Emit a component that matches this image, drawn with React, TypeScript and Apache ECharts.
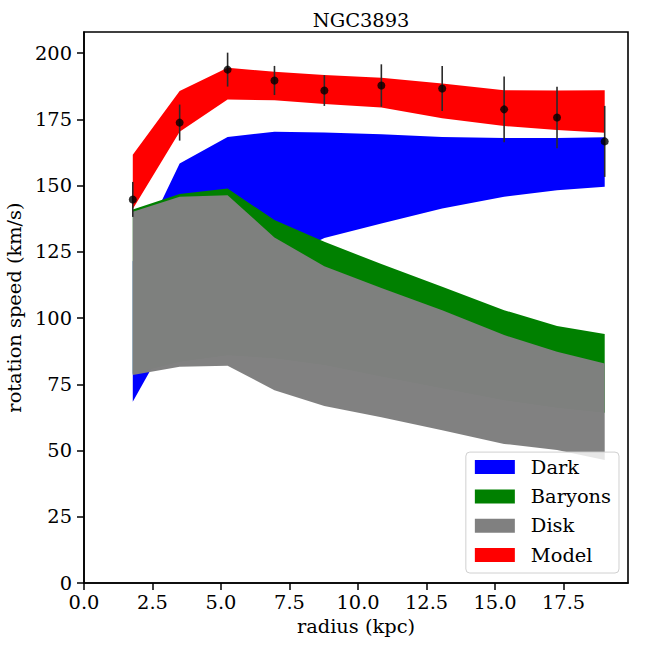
import React, { useEffect, useRef } from "react";
import * as echarts from "echarts";

// radius (kpc) of the sampled points
const radius = [1.78, 3.49, 5.24, 6.95, 8.77, 10.85, 13.07, 15.33, 17.26, 19.0];
// observed rotation speed (km/s) and error
const vObs = [144.8, 173.8, 193.8, 189.7, 185.9, 187.8, 186.7, 178.8, 175.7, 166.7];
const vErr = [6.6, 6.8, 6.4, 5.5, 5.8, 8.0, 8.5, 12.4, 11.6, 13.4];

// band limits
const darkLo = [68.4, 100, 112, 121, 130.2, 135.7, 141.4, 145.8, 148.3, 149.6];
const darkHi = [121.5, 158.4, 168.4, 170.3, 170.1, 169.4, 168.4, 168.0, 168.0, 168.3];
const baryLo = [79, 83.5, 86, 84.8, 82.3, 78, 73.5, 69, 66.2, 64.3];
const baryHi = [141, 146.8, 148.9, 137, 128.8, 120.4, 111.8, 103, 97, 94];
const diskLo = [78.5, 81.6, 82, 72.8, 66.8, 62.6, 57.7, 52.5, 50.2, 46.4];
const diskHi = [140.1, 145.8, 146.4, 130.4, 119.6, 111.4, 103, 93.6, 87.3, 82.9];
const modelLo = [141.2, 170.3, 182.5, 182.2, 180.8, 179.5, 175.4, 172.5, 171, 170];
const modelHi = [161.7, 185.7, 194.5, 193, 191.8, 190.7, 188.6, 186, 185.9, 186];

const xTicks = [0, 2.5, 5, 7.5, 10, 12.5, 15, 17.5];
const yTicks = [0, 25, 50, 75, 100, 125, 150, 175, 200];

const FONT = "DejaVu Serif";
const FS = 19.4;

function band(name: string, color: string, lo: number[], hi: number[], opacity = 1) {
  return {
    type: "custom",
    name,
    data: radius.map((r, i) => [r, lo[i], hi[i]]),
    encode: { x: 0, y: [1, 2] },
    itemStyle: { color },
    silent: true,
    clip: true,
    renderItem: (params: any, api: any) => {
      if (params.dataIndex !== 0) return null;
      const pts: number[][] = [];
      for (let i = 0; i < radius.length; i++) pts.push(api.coord([radius[i], hi[i]]));
      for (let i = radius.length - 1; i >= 0; i--) pts.push(api.coord([radius[i], lo[i]]));
      return {
        type: "polygon",
        shape: { points: pts },
        style: { fill: color, opacity, stroke: null },
      };
    },
  };
}

export default function App() {
  const ref = useRef<HTMLDivElement>(null);
  useEffect(() => {
    if (!ref.current) return;
    const chart = echarts.init(ref.current, null, { renderer: "svg" });
    chart.setOption({
      animation: false,
      backgroundColor: "#fff",
      title: {
        text: "NGC3893",
        left: 356,
        top: 6,
        textAlign: "center",
        textStyle: { fontFamily: FONT, fontSize: FS, fontWeight: "normal", color: "#000" },
      },
      grid: {
        left: 84,
        right: 20,
        top: 32,
        bottom: 65,
        containLabel: false,
        outerBoundsMode: "none",
        show: true,
        borderColor: "#000",
        borderWidth: 1.6,
        backgroundColor: "transparent",
      },
      legend: {
        orient: "vertical",
        right: 29,
        bottom: 75,
        itemWidth: 40,
        itemHeight: 14,
        itemGap: 9.3,
        padding: [5, 8, 8, 9],
        backgroundColor: "rgba(255,255,255,0.8)",
        borderColor: "#d0d0d0",
        borderWidth: 1,
        borderRadius: 4,
        textStyle: {
          fontFamily: FONT,
          fontSize: FS,
          lineHeight: 20,
          color: "#000",
          padding: [0, 0, 0, 11],
        },
        data: [
          { name: "Dark", icon: "rect", itemStyle: { color: "#0000ff" } },
          { name: "Baryons", icon: "rect", itemStyle: { color: "#008000" } },
          { name: "Disk", icon: "rect", itemStyle: { color: "#808080" } },
          { name: "Model", icon: "rect", itemStyle: { color: "#ff0000" } },
        ],
        selectedMode: false,
      },
      xAxis: {
        type: "value",
        min: 0,
        max: 19.85,
        name: "radius (kpc)",
        nameLocation: "middle",
        nameGap: 33,
        nameTextStyle: { fontFamily: FONT, fontSize: FS, color: "#000" },
        axisLine: { show: true, lineStyle: { color: "#000", width: 1.6 } },
        axisTick: {
          show: true,
          inside: false,
          length: 7,
          lineStyle: { color: "#000", width: 1.5 },
          customValues: xTicks,
        },
        axisLabel: {
          customValues: xTicks,
          formatter: (v: number) => v.toFixed(1),
          fontFamily: FONT,
          fontSize: FS,
          color: "#000",
          margin: 10,
        },
        splitLine: { show: false },
      },
      yAxis: {
        type: "value",
        min: 0,
        max: 208,
        name: "rotation speed (km/s)",
        nameLocation: "middle",
        nameGap: 51,
        nameTextStyle: { fontFamily: FONT, fontSize: FS, color: "#000" },
        axisLine: { show: true, lineStyle: { color: "#000", width: 1.6 } },
        axisTick: {
          show: true,
          inside: false,
          length: 7,
          lineStyle: { color: "#000", width: 1.5 },
          customValues: yTicks,
        },
        axisLabel: {
          customValues: yTicks,
          formatter: (v: number) => String(v),
          fontFamily: FONT,
          fontSize: FS,
          color: "#000",
          margin: 12,
        },
        splitLine: { show: false },
      },
      series: [
        band("Dark", "#0000ff", darkLo, darkHi),
        band("Baryons", "#008000", baryLo, baryHi),
        band("Disk", "#7f7f7f", diskLo, diskHi, 0.99),
        band("Model", "#ff0000", modelLo, modelHi),
        {
          type: "custom",
          name: "errors",
          data: radius.map((r, i) => [r, vObs[i] - vErr[i], vObs[i] + vErr[i]]),
          encode: { x: 0, y: [1, 2] },
          silent: true,
          renderItem: (_p: any, api: any) => {
            const a = api.coord([api.value(0), api.value(1)]);
            const b = api.coord([api.value(0), api.value(2)]);
            return {
              type: "line",
              shape: { x1: a[0], y1: a[1], x2: b[0], y2: b[1] },
              style: { stroke: "#2a2a2a", lineWidth: 1.6 },
            };
          },
        },
        {
          type: "scatter",
          name: "data",
          data: radius.map((r, i) => [r, vObs[i]]),
          symbol: "circle",
          symbolSize: 8,
          itemStyle: { color: "#000" },
          silent: true,
        },
      ],
    });
    return () => chart.dispose();
  }, []);
  return (
    <div
      ref={ref}
      style={{ position: "fixed", left: 0, top: 0, width: 648, height: 648 }}
    />
  );
}
